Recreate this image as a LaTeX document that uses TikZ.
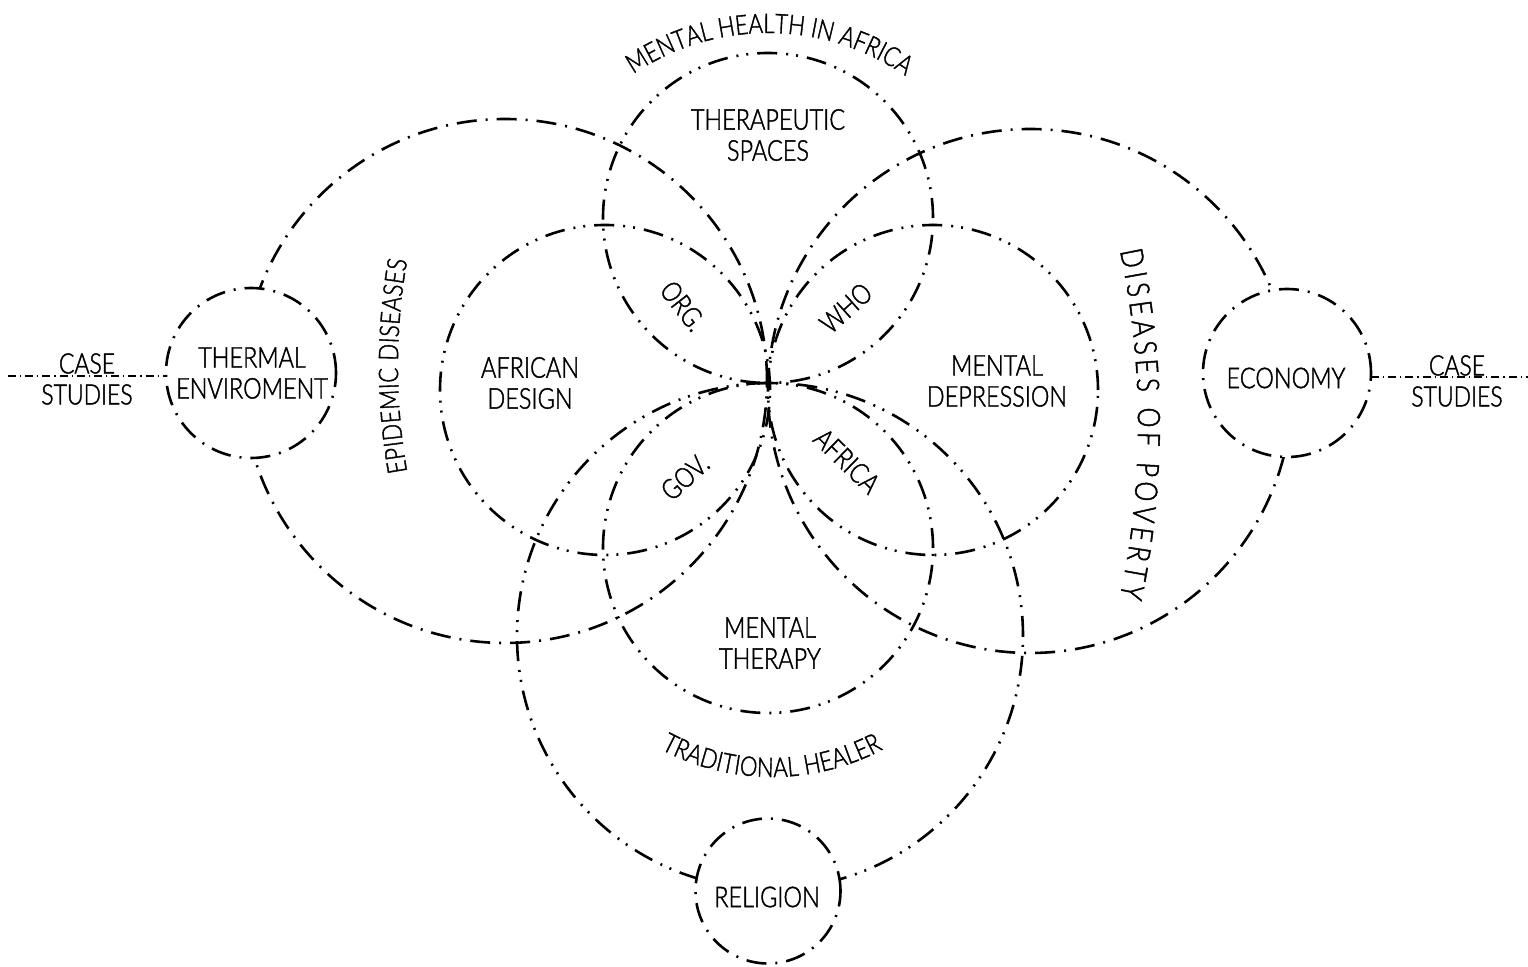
\documentclass[tikz,border=0pt]{standalone}
\usepackage{fontspec}
\setmainfont{Lato Light}[FakeStretch=0.82, FakeBold=1.5]
\usetikzlibrary{decorations.text}
\tikzset{
  ddot/.style={dash pattern=on 10pt off 4.5pt on 1pt off 4pt on 1pt off 4.5pt},
  sdot/.style={dash pattern=on 10pt off 4.5pt on 1pt off 4.5pt},
  ring/.style={circle, draw, fill=white, sdot, inner sep=0pt, outer sep=0pt},
  lab/.style={font=\fontsize{14.3}{15.5}\selectfont, align=center, inner sep=0pt},
  caselab/.style={font=\fontsize{14}{15.5}\selectfont, align=center, inner sep=0pt},
  tag/.style={font=\fontsize{14}{15}\selectfont, inner sep=0pt},
  caseline/.style={line width=0.6pt, dash pattern=on 4pt off 2pt on 0.6pt off 2pt},
}
\begin{document}
\begin{tikzpicture}[x=0.5pt,y=0.5pt,line width=1.3pt]
\useasboundingbox (0,0) rectangle (1528,966);
\fill[white] (0,0) rectangle (1528,966);
% large circles
\draw[sdot] (505,585) circle[radius=262];
\draw[sdot] (1030,575) circle[radius=262];
\draw[ddot] (770,330) circle[radius=253];
% inner circles
\draw[ddot] (768,748) circle[radius=165];
\draw[ddot] (605,576) circle[radius=165];
\draw[ddot] (933,576) circle[radius=165];
\draw[ddot] (768,418) circle[radius=165];
% small circles
\node[ring, minimum size=85pt] (thermal) at (251,593) {};
\node[ring, minimum size=84pt] (economy) at (1287,593) {};
\node[ring, minimum size=72.5pt] (religion) at (768,75) {};
% case study lines
\coordinate (caseLend) at (8,590);
\coordinate (caseRend) at (1528,589);
\draw[caseline] (caseLend) -- (caseLend -| thermal.west);
\draw[caseline] (caseRend -| economy.east) -- (caseRend);
% labels
\node[caselab] (caseL) at (87,587) {CASE\\STUDIES};
\node[caselab] (caseR) at (1457,585) {CASE\\STUDIES};
\node[lab] (thermalT) at (252,593) {THERMAL\\ENVIROMENT};
\node[lab] (econT) at (1286,588) {ECONOMY};
\node[lab] (relT) at (767,69) {RELIGION};
\node[lab] (theraT) at (768,831) {THERAPEUTIC\\SPACES};
\node[lab] (afrT) at (530,583) {AFRICAN\\DESIGN};
\node[lab] (depT) at (997,585) {MENTAL\\DEPRESSION};
\node[lab] (therT) at (770,323) {MENTAL\\THERAPY};
\node[tag, rotate=-52] (org) at (683,660) {ORG.};
\node[tag, rotate=42] (who) at (846,658) {WHO};
\node[tag, rotate=42] (gov) at (685,489) {GOV.};
\node[tag, rotate=-44] (africa) at (847,505) {AFRICA};
% curved texts
\path[decorate, decoration={text along path, text align=fit to path,
  text={|\fontsize{13.5}{14}\selectfont|MENTAL HEALTH IN AFRICA}}]
  ([shift={(124:241)}]768,692) arc[start angle=124, end angle=56, radius=241];
\path[decorate, decoration={text along path, text align=fit to path,
  text={|\fontsize{13.5}{14}\selectfont|TRADITIONAL HEALER}}]
  ([shift={(242:237)}]772,426) arc[start angle=242, end angle=298, radius=237];
\path[decorate, decoration={text along path, text align=fit to path,
  text={|\fontsize{13.5}{14}\selectfont|EPIDEMIC DISEASES}}]
  ([shift={(190:610)}]1008,600) arc[start angle=190, end angle=170, radius=610];
\path[decorate, decoration={text along path, text align=fit to path,
  text={|\fontsize{15.5}{16}\selectfont|DISEASES OF POVERTY}}]
  ([shift={(11.9:840)}]298,542) arc[start angle=11.9, end angle=-11.9, radius=840];
\end{tikzpicture}
\end{document}
